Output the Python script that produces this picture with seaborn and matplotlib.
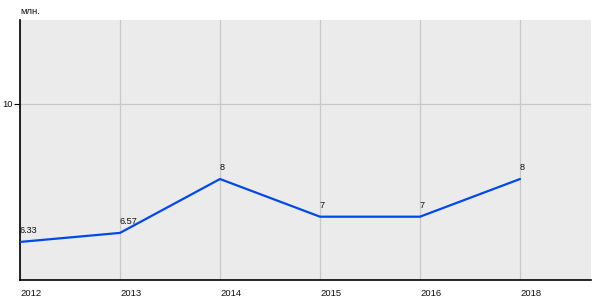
import matplotlib
matplotlib.use("Agg")
import matplotlib.pyplot as plt
import seaborn as sns
import pandas as pd

years = ["2012", "2013", "2014", "2015", "2016", "2018"]
values = [6.33, 6.57, 8, 7, 7, 8]
labels = ["6.33", "6.57", "8", "7", "7", "8"]
y_ticks = [10]
y_unit = "млн."

sns.set_theme(style="white")
plt.rcParams["font.family"] = ["Liberation Sans", "DejaVu Sans"]

df = pd.DataFrame({"year": years, "value": values})

fig = plt.figure(figsize=(6, 3), dpi=100)
fig.patch.set_facecolor("white")
ax = fig.add_axes([20 / 600, 20 / 300, 571 / 600, 260 / 300])
ax.set_facecolor("#ebebeb")

sns.lineplot(data=df, x="year", y="value", ax=ax, sort=False,
             color="#0048e8", linewidth=1.6, zorder=3)

for i, (v, lab) in enumerate(zip(values, labels)):
    ax.annotate(lab, (i, v), xytext=(0, 5), textcoords="offset points",
                ha="left", va="bottom", fontsize=6.6, color="#111111",
                zorder=4, annotation_clip=False)

ax.set_xlim(0, 5.71)
ax.set_ylim(5.32, 12.22)
ax.set_xticks(range(len(years)))
ax.set_xticklabels(years, ha="left", fontsize=6.8, color="#111111")
ax.set_yticks(y_ticks)
ax.set_yticklabels([str(t) for t in y_ticks], fontsize=6.8, color="#111111")
ax.tick_params(axis="x", length=0, pad=6.5)
ax.tick_params(axis="y", length=4, width=0.8, color="black", pad=1.5, left=True)
ax.grid(True, color="#c8c8c8", linewidth=0.9)
ax.set_axisbelow(True)
ax.set_xlabel("")
ax.set_ylabel("")

for s in ["top", "right"]:
    ax.spines[s].set_visible(False)
for s in ["left", "bottom"]:
    ax.spines[s].set_visible(True)
    ax.spines[s].set_color("black")
    ax.spines[s].set_linewidth(1.2)

fig.text(20 / 600, 1 - 11 / 300, y_unit, ha="left", va="center",
         fontsize=6.8, color="#111111")

fig.savefig("out.png", dpi=100)
